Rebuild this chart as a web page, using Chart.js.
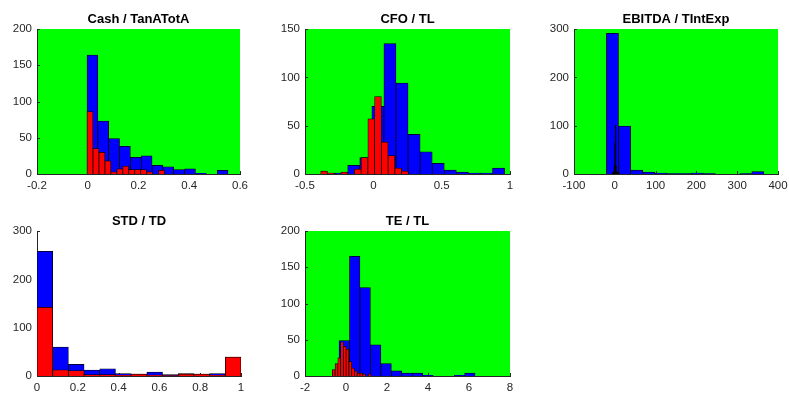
<!DOCTYPE html>
<html>
<head>
<meta charset="utf-8">
<script src="https://cdn.jsdelivr.net/npm/chart.js@4.4.0/dist/chart.umd.min.js"></script>
<style>
  body { margin: 0; background: #fff; width: 789px; height: 396px; overflow: hidden; position: relative; }
  canvas { position: absolute; }
</style>
</head>
<body>
<canvas id="cashChart" width="253" height="194" style="left:0;top:0"></canvas>
<canvas id="cfoChart" width="254" height="194" style="left:268px;top:0"></canvas>
<canvas id="ebitdaChart" width="257" height="194" style="left:537px;top:0"></canvas>
<canvas id="stdChart" width="253" height="194" style="left:0;top:202px"></canvas>
<canvas id="teChart" width="254" height="194" style="left:268px;top:202px"></canvas>
<script>
// bin centres (x) and counts (n)
// blue = wide bins, red = narrow bins drawn on top

// Cash / TanATotA
const cashBlueX = [0.0184, 0.0611, 0.1039, 0.1466, 0.1894, 0.2321, 0.2749, 0.3176, 0.3604, 0.4031, 0.4459, 0.4886, 0.5314, 0.5741];
const cashBlueN = [164, 73, 49, 38, 23, 25, 12, 10, 6, 7, 1, 0, 5, 0];
const cashRedX = [0.0088, 0.0323, 0.0558, 0.0793, 0.1028, 0.1263, 0.1498, 0.1733, 0.1968, 0.2203, 0.2438, 0.2673, 0.2908];
const cashRedN = [86, 35, 30, 18, 3, 7, 11, 6, 6, 6, 3, 0, 5];

// CFO / TL
const cfoBlueX = [-0.3199, -0.2316, -0.1433, -0.0550, 0.0333, 0.1216, 0.2099, 0.2982, 0.3865, 0.4748, 0.5631, 0.6514, 0.7397, 0.8280, 0.9163];
const cfoBlueN = [1, 1, 9, 17, 70, 135, 94, 41, 23, 11, 4, 2, 1, 1, 6];
const cfoRedX = [-0.3604, -0.3111, -0.2618, -0.2125, -0.1632, -0.1139, -0.0646, -0.0153, 0.0340, 0.0833, 0.1326, 0.1819, 0.2312];
const cfoRedN = [3, 1, 0, 2, 0, 5, 17, 57, 80, 33, 19, 6, 3];

// EBITDA / TIntExp
const ebitdaBlueX = [-5.75, 23.95, 53.65, 83.35, 113.05, 142.75, 172.45, 202.15, 231.85, 261.55, 291.25, 320.95, 350.65];
const ebitdaBlueN = [291, 99, 8, 4, 2, 1, 1, 2, 1, 0, 0, 1, 5];
const ebitdaRedX = [-5.85, -4.55, -3.25, -1.95, -0.65, 0.65, 1.95, 3.25, 4.55, 5.85, 7.15, 8.45, 9.75];
const ebitdaRedN = [1, 2, 3, 6, 18, 63, 101, 15, 5, 3, 1, 0, 1];

// STD / TD
const stdBlueX = [0.0385, 0.1154, 0.1923, 0.2692, 0.3462, 0.4231, 0.5, 0.5769, 0.6538, 0.7308, 0.8077, 0.8846, 0.9615];
const stdBlueN = [258, 60, 24, 12, 15, 5, 4, 8, 3, 5, 4, 5, 39];
const stdRedX = [0.0385, 0.1154, 0.1923, 0.2692, 0.3462, 0.4231, 0.5, 0.5769, 0.6538, 0.7308, 0.8077, 0.8846, 0.9615];
const stdRedN = [142, 13, 11, 3, 3, 2, 4, 2, 1, 4, 4, 2, 39];

// TE / TL
const teBlueX = [-0.0857, 0.4249, 0.9355, 1.4461, 1.9567, 2.4673, 2.9779, 3.4885, 3.9991, 4.5097, 5.0203, 5.5309, 6.0415];
const teBlueN = [49, 165, 122, 43, 17, 7, 4, 4, 1, 0, 0, 1, 4];
const teRedX = [-0.6006, -0.4658, -0.3310, -0.1962, -0.0614, 0.0734, 0.2082, 0.3430, 0.4778, 0.6126, 0.7474, 0.8822, 1.0170, 1.1518];
const teRedN = [9, 17, 25, 47, 41, 37, 20, 11, 7, 4, 4, 3, 0, 3];

Chart.defaults.font.family = '"Liberation Sans", Arial, sans-serif';

const axisColor = '#262626';

// fills the plot area and draws the short inward tick marks
const areaPlugin = {
    id: 'areaFill',
    beforeDraw(chart, args, opts) {
        const a = chart.chartArea;
        const ctx = chart.ctx;
        ctx.save();
        ctx.fillStyle = opts.color;
        ctx.fillRect(a.left, a.top, a.right - a.left, a.bottom - a.top);
        ctx.restore();
    },
    beforeDatasetsDraw(chart) {
        const a = chart.chartArea;
        const ctx = chart.ctx;
        const xs = chart.scales.x;
        const ys = chart.scales.y;
        ctx.save();
        ctx.strokeStyle = axisColor;
        ctx.lineWidth = 1;
        ctx.beginPath();
        xs.ticks.forEach(t => {
            const p = Math.round(xs.getPixelForValue(t.value)) + 0.5;
            ctx.moveTo(p, a.bottom);
            ctx.lineTo(p, a.bottom - 3);
        });
        ys.ticks.forEach(t => {
            const p = Math.round(ys.getPixelForValue(t.value)) + 0.5;
            ctx.moveTo(a.left, p);
            ctx.lineTo(a.left + 3, p);
        });
        ctx.stroke();
        ctx.restore();
    }
};

function points(xs, ns) {
    return xs.map((x, i) => ({ x: x, y: ns[i] }));
}

// "1" rather than "1.0", like the original axes
function tickText(v) {
    return String(+v.toFixed(4));
}

function histPanel(id, title, xMin, xMax, xStep, yMax, yStep, blueX, blueN, redX, redN, bg, redFill, redInflate, padRight) {
    new Chart(document.getElementById(id), {
        type: 'bar',
        data: {
            datasets: [
                {
                    data: points(redX, redN),
                    xAxisID: 'x2',
                    backgroundColor: redFill,
                    borderColor: '#000000',
                    borderWidth: 0.75,
                    inflateAmount: redInflate,
                    grouped: false,
                    barPercentage: 1,
                    categoryPercentage: 1
                },
                {
                    data: points(blueX, blueN),
                    xAxisID: 'x',
                    backgroundColor: '#0000ff',
                    borderColor: '#000000',
                    borderWidth: 0.75,
                    grouped: false,
                    barPercentage: 1,
                    categoryPercentage: 1
                }
            ]
        },
        options: {
            responsive: false,
            animation: false,
            devicePixelRatio: 1,
            layout: { padding: { left: 0, right: padRight, top: 0, bottom: 0 } },
            plugins: {
                legend: { display: false },
                tooltip: { enabled: false },
                title: {
                    display: true,
                    text: title,
                    fullSize: false,
                    color: '#000000',
                    font: { size: 13, weight: 'bold' },
                    padding: { top: 12, bottom: 1.4 }
                },
                areaFill: { color: bg }
            },
            scales: {
                x: {
                    type: 'linear',
                    min: xMin,
                    max: xMax,
                    offset: false,
                    grid: { display: false, drawTicks: false },
                    border: { color: axisColor, width: 1 },
                    ticks: { stepSize: xStep, color: axisColor, font: { size: 11.5 }, padding: 5, maxRotation: 0, autoSkip: false, callback: tickText },
                    afterFit: s => { s.height = 20; }
                },
                x2: {
                    type: 'linear',
                    display: false,
                    min: xMin,
                    max: xMax,
                    offset: false,
                    ticks: { stepSize: xStep }
                },
                y: {
                    min: 0,
                    max: yMax,
                    grid: { display: false, drawTicks: false },
                    border: { color: axisColor, width: 1 },
                    ticks: { stepSize: yStep, color: axisColor, font: { size: 11.5 }, padding: 5 },
                    afterFit: s => { s.width = 37; }
                }
            }
        },
        plugins: [areaPlugin]
    });
}

histPanel('cashChart', 'Cash / TanATotA', -0.2, 0.6, 0.2, 200, 50, cashBlueX, cashBlueN, cashRedX, cashRedN, '#00ff00', '#ff0000', 'auto', 12);
histPanel('cfoChart', 'CFO / TL', -0.5, 1, 0.5, 150, 50, cfoBlueX, cfoBlueN, cfoRedX, cfoRedN, '#00ff00', '#ff0000', 'auto', 12);
// the red bins here are under a pixel wide, so only their black edges show
histPanel('ebitdaChart', 'EBITDA / TIntExp', -100, 400, 100, 300, 100, ebitdaBlueX, ebitdaBlueN, ebitdaRedX, ebitdaRedN, '#00ff00', '#000000', 0.6, 16);
histPanel('stdChart', 'STD / TD', 0, 1, 0.2, 300, 100, stdBlueX, stdBlueN, stdRedX, stdRedN, '#ffffff', '#ff0000', 'auto', 12);
histPanel('teChart', 'TE / TL', -2, 8, 2, 200, 50, teBlueX, teBlueN, teRedX, teRedN, '#00ff00', '#ff0000', 'auto', 12);
</script>
</body>
</html>
